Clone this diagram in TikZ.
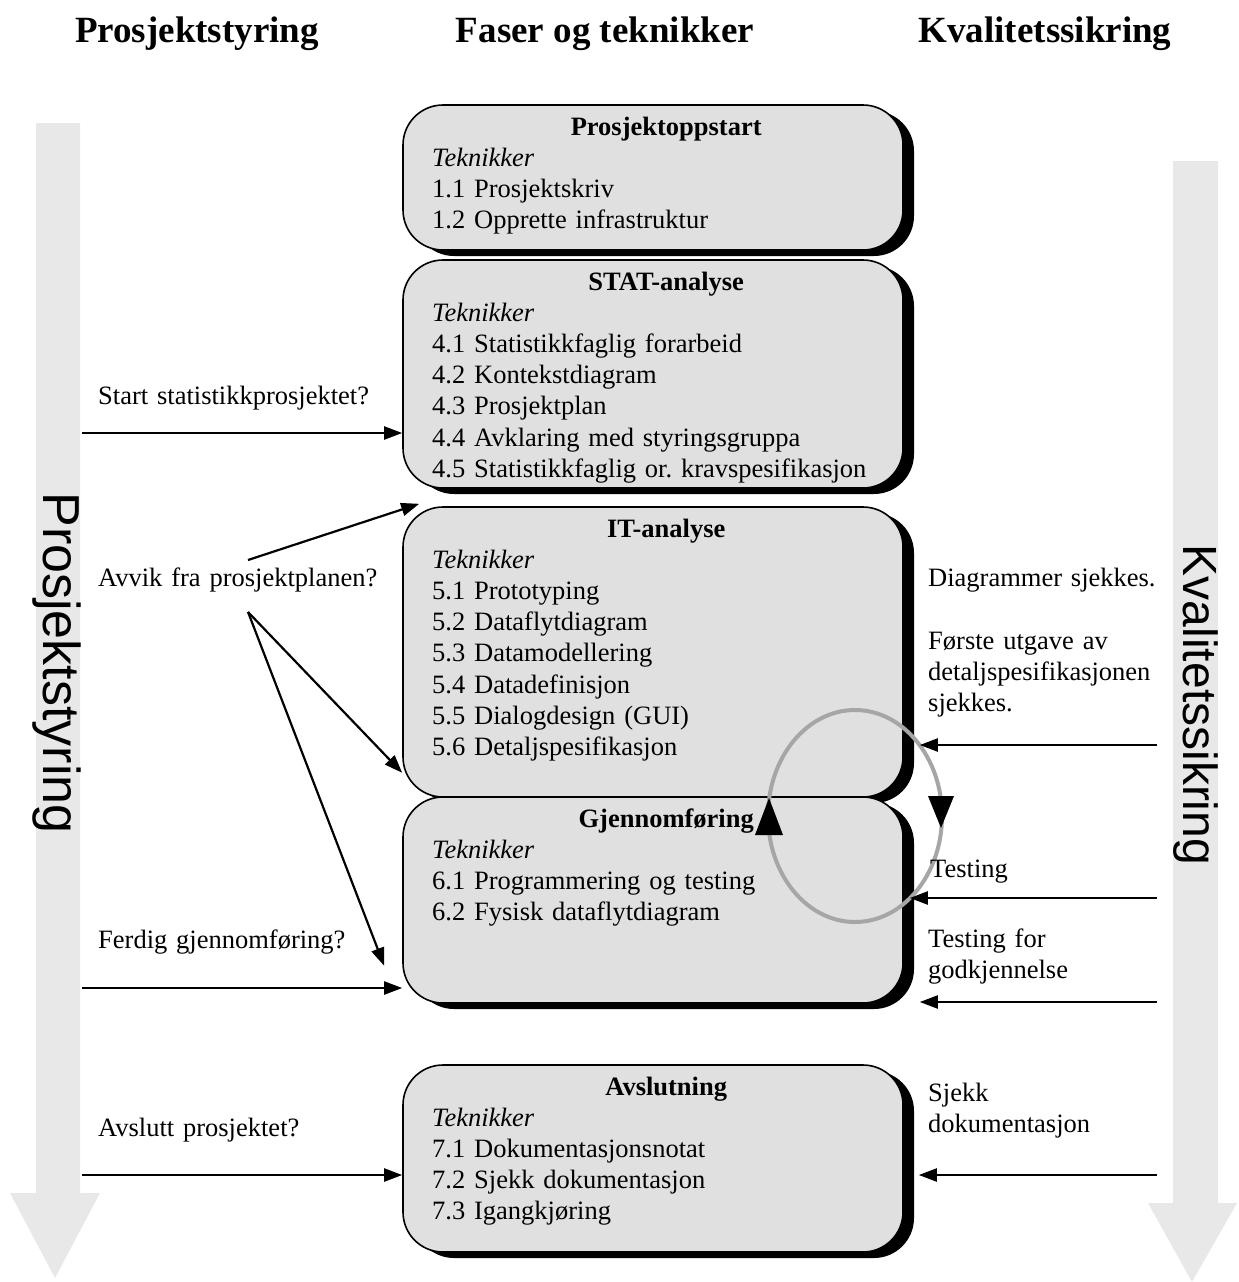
\documentclass[tikz,border=0pt]{standalone}
\usepackage{fontspec}
\setmainfont{Liberation Serif}
\newfontfamily\storsans{Liberation Sans}
\usetikzlibrary{arrows.meta,fit,shadows}
\frenchspacing

\tikzset{
  fase/.style={draw=black, line width=1.6pt, fill=black!12, rounded corners=40pt, inner sep=0pt,
    drop shadow={shadow xshift=11pt, shadow yshift=-6pt, fill=black, opacity=1}},
  fasetekst/.style={anchor=base west, text width=468pt, inner sep=0pt,
    font=\fontsize{26.5}{31.2}\selectfont},
  merknad/.style={anchor=base west, text width=300pt, align=left, inner sep=0pt,
    font=\fontsize{26.5}{31.2}\selectfont},
  hovud/.style={anchor=base, inner sep=0pt, font=\fontsize{37}{44}\selectfont\bfseries},
  sidetekst/.style={rotate=-90, inner sep=0pt},
  storpil/.style={fill=black!9, draw=none},
  pil/.style={line width=2.2pt, -{Triangle[length=18pt,width=13pt]}}
}

\begin{document}
\begin{tikzpicture}[x=1pt, y=-1pt]
\useasboundingbox (0,0) rectangle (1239,1282);

\fill[storpil] (36,123) -- (80,123) -- (80,1193) -- (100,1193) -- (55,1278) -- (10,1193) -- (36,1193) -- cycle;
\fill[storpil] (1173,161) -- (1218,161) -- (1218,1203) -- (1237,1203) -- (1192,1282) -- (1148,1203) -- (1173,1203) -- cycle;
\node[sidetekst, font=\storsans\fontsize{52}{60}\selectfont] (styr) at (57,663) {Prosjektstyring};
\node[sidetekst, font=\storsans\fontsize{48}{56}\selectfont] (kval) at (1196,705) {Kvalitetssikring};

\node[hovud] (h1) at (197,42) {Prosjektstyring};
\node[hovud] (h2) at (605,42) {Faser og teknikker};
\node[hovud] (h3) at (1045,42) {Kvalitetssikring};

\def\fase#1#2#3#4#5{
\node[fase, fit={(403,#1) (903,#2)}] (#3) {};
\node[fasetekst] (#3-t) at (432,#1+30) {\makebox[\linewidth]{\bfseries #4}\\ \textit{Teknikker}\\ #5};
}
\fase{105}{250}{oppstart}{Prosjektoppstart}{1.1 Prosjektskriv\\1.2 Opprette infrastruktur}
\fase{260}{488}{stat}{STAT-analyse}{4.1 Statistikkfaglig forarbeid\\4.2 Kontekstdiagram\\4.3 Prosjektplan\\4.4 Avklaring med styringsgruppa\\4.5 Statistikkfaglig or. kravspesifikasjon}
\fase{507}{797}{itan}{IT-analyse}{5.1 Prototyping\\5.2 Dataflytdiagram\\5.3 Datamodellering\\5.4 Datadefinisjon\\5.5 Dialogdesign (GUI)\\5.6 Detaljspesifikasjon}
\fase{797}{1003}{gjen}{Gjennomføring}{6.1 Programmering og testing\\6.2 Fysisk dataflytdiagram}
\fase{1065}{1252}{avsl}{Avslutning}{7.1 Dokumentasjonsnotat\\7.2 Sjekk dokumentasjon\\7.3 Igangkjøring}

\draw[black!35, line width=4pt] (855,816) ellipse [x radius=87, y radius=106];
\fill (769,798) -- (783,835) -- (755,835) -- cycle;
\fill (941,828) -- (928,796) -- (954,796) -- cycle;

\node[merknad] (m1) at (98,404) {Start statistikkprosjektet?};
\node[merknad] (m2) at (98,586) {Avvik fra prosjektplanen?};
\node[merknad] (m3) at (98,948) {Ferdig gjennomføring?};
\node[merknad] (m4) at (98,1136) {Avslutt prosjektet?};
\node[merknad] (k1) at (928,586) {Diagrammer sjekkes.};
\node[merknad] (k2) at (928,649) {Første utgave av\\detaljspesifikasjonen\\sjekkes.};
\node[merknad] (k3) at (930,877) {Testing};
\node[merknad] (k4) at (928,947) {Testing for\\godkjennelse};
\node[merknad] (k5) at (928,1101) {Sjekk\\dokumentasjon};

\coordinate (s1) at (82,433);
\coordinate (s2) at (82,988);
\coordinate (s3) at (82,1175);
\coordinate (av1) at (248,560);
\coordinate (av2) at (248,612);
\draw[pil] (s1) -- (s1 -| stat.west);
\draw[pil] (s2) -- (s2 -| gjen.west);
\draw[pil] (s3) -- (s3 -| avsl.west);
\draw[pil] (av1) -- ([shift={(17,15)}]stat.south west);
\draw[pil] (av2) -- ([shift={(0,-25)}]itan.south west);
\draw[pil] (av2) -- ([shift={(-18,-38)}]gjen.south west);

\coordinate (q1) at (1157,745);
\coordinate (q2) at (1157,898);
\coordinate (q3) at (1157,1002);
\coordinate (q4) at (1157,1175);
\draw[pil] (q1) -- ([xshift=16pt]q1 -| itan.east);
\draw[pil] (q2) -- ([xshift=6pt]q2 -| gjen.east);
\draw[pil] (q3) -- ([xshift=16pt]q3 -| gjen.east);
\draw[pil] (q4) -- ([xshift=15pt]q4 -| avsl.east);
\end{tikzpicture}
\end{document}
